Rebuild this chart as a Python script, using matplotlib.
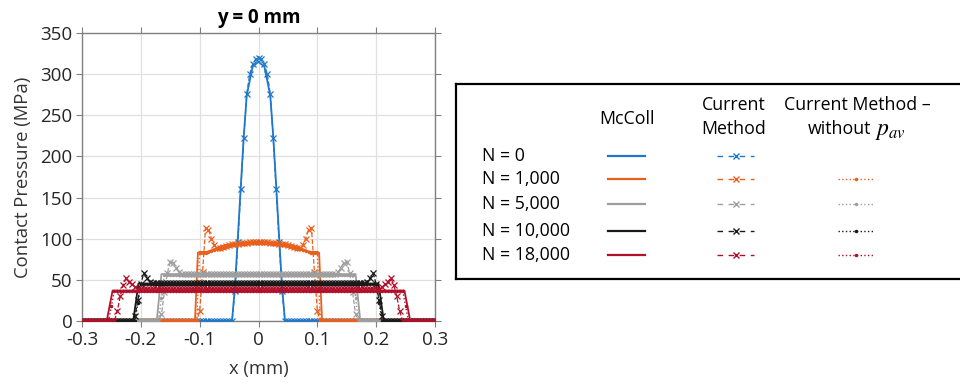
import numpy as np
import matplotlib.pyplot as plt

plt.rcParams['font.family'] = ['Open Sans', 'DejaVu Sans']
plt.rcParams['mathtext.fontset'] = 'stix'

# load cases and colours
labels = ['N = 0', 'N = 1,000', 'N = 5,000', 'N = 10,000', 'N = 18,000']
colors = ['#1f78c8', '#e8601c', '#9e9e9e', '#1a1a1a', '#b0102a']

# McColl solution, half profiles (x >= 0), mirrored about x = 0
mccoll_x = [
    [0, 0.01, 0.02, 0.025, 0.03, 0.035, 0.04, 0.045, 0.3],
    [0, 0.02, 0.04, 0.05, 0.06, 0.07, 0.08, 0.088, 0.1, 0.103, 0.108, 0.3],
    [0, 0.165, 0.173, 0.3],
    [0, 0.204, 0.213, 0.3],
    [0, 0.248, 0.258, 0.3],
]
mccoll_p = [
    [315, 309, 274, 225, 165, 103, 42, 0, 0],
    [96, 95.5, 94, 93, 91.5, 89, 86, 84, 84, 83, 0, 0],
    [57, 57, 0, 0],
    [45.5, 45.5, 0, 0],
    [37, 37, 0, 0],
]

# current method, nodal values every 0.005 mm from x = 0 to 0.3
mesh_half = np.linspace(0, 0.3, 61)
current_p = [
    [320, 318, 312, 300, 276, 222, 160, 96, 36] + [0] * 52,
    [96, 96, 95.5, 95.5, 95, 95, 94.5, 94, 93.5, 93, 92, 91, 90, 89, 89,
     92, 100, 111, 113, 60, 12] + [0] * 40,
    [57] * 27 + [59, 65, 71, 72, 58, 35, 8] + [0] * 27,
    [46] * 37 + [48, 52, 58, 45, 25, 6] + [0] * 18,
    [39] * 42 + [41, 45, 48, 52, 44, 30, 12] + [0] * 12,
]

# current method without p_av (not computed for N = 0)
nopav_p = [
    None,
    [95, 95, 95, 94.5, 94.5, 94, 93.5, 93, 92.5, 92, 91, 90, 89, 88, 87,
     86, 85, 84, 83, 83, 83] + [0] * 40,
    [56] * 33 + [28] + [0] * 27,
    [45] * 41 + [22] + [0] * 19,
    [37] * 50 + [18] + [0] * 10,
]


def mirror(x, p):
    x = np.asarray(x, dtype=float)
    p = np.asarray(p, dtype=float)
    return np.concatenate([-x[::-1][:-1], x]), np.concatenate([p[::-1][:-1], p])


fig = plt.figure(figsize=(9.6, 3.86), dpi=100)
ax = fig.add_axes([82 / 960, 1 - 321 / 386, 353 / 960, 288 / 386])

for i, c in enumerate(colors):
    z = 2 + 3 * i
    xm, pm = mirror(mccoll_x[i], mccoll_p[i])
    ax.plot(xm, pm, '-', color=c, lw=1.3, zorder=z)
    xc, pc = mirror(mesh_half, current_p[i])
    ax.plot(xc, pc, '--', color=c, lw=0.9, marker='x', ms=4.5, mew=0.9,
            zorder=z + 1)
    if nopav_p[i] is not None:
        xn, pn = mirror(mesh_half, nopav_p[i])
        ax.plot(xn, pn, ':', color=c, lw=1.0, marker='.', ms=3,
                zorder=z + 2)

ax.set_xlim(-0.3, 0.3)
ax.set_ylim(0, 350)
ax.set_xticks(np.arange(-0.3, 0.31, 0.1))
ax.set_xticklabels(['-0.3', '-0.2', '-0.1', '0', '0.1', '0.2', '0.3'])
ax.set_yticks(np.arange(0, 351, 50))
ax.grid(True, color='#e0e0e0', lw=0.9)
ax.set_axisbelow(True)
for s in ax.spines.values():
    s.set_color('#808080')
    s.set_linewidth(1.0)
ax.tick_params(direction='out', length=4, width=0.8, color='#808080',
               labelsize=13.5, top=True, right=True, pad=3,
               labelcolor='#262626')
ax.set_title('y = 0 mm', fontsize=13.5, fontweight='bold', pad=7)
ax.set_xlabel('x (mm)', fontsize=13.3, labelpad=8, color='#333333')
ax.set_ylabel('Contact Pressure (MPa)', fontsize=13.3, labelpad=6,
              color='#333333')

# legend table, laid out in pixel units
lg = fig.add_axes([456 / 960, 1 - 279 / 386, (964 - 456) / 960, 195 / 386])
lg.set_xlim(456, 964)
lg.set_ylim(279, 84)
lg.set_xticks([])
lg.set_yticks([])
for s in lg.spines.values():
    s.set_linewidth(1.6)
    s.set_color('black')

fs = 12.8
lg.text(627, 119, 'McColl', ha='center', va='center', fontsize=fs)
lg.text(734, 105, 'Current', ha='center', va='center', fontsize=fs)
lg.text(734, 129, 'Method', ha='center', va='center', fontsize=fs)
lg.text(857, 105, 'Current Method \u2013', ha='center', va='center',
        fontsize=fs)
lg.text(871, 129, 'without', ha='right', va='center', fontsize=fs)
lg.text(875, 130, '$p_{av}$', ha='left', va='center', fontsize=17)

rows_y = [156, 179, 204, 231, 255]
for i, c in enumerate(colors):
    y = rows_y[i]
    lg.text(482, y, labels[i], ha='left', va='center', fontsize=fs)
    lg.plot([608, 645], [y, y], '-', color=c, lw=1.6)
    lg.plot([717, 754], [y, y], '--', color=c, lw=1.0, dashes=(4, 4))
    lg.plot([735.5], [y], 'x', color=c, ms=5, mew=1.0)
    if nopav_p[i] is not None:
        lg.plot([838, 873], [y, y], ':', color=c, lw=1.0)
        lg.plot([855.5], [y], '.', color=c, ms=3)

fig.savefig('out.png', dpi=100)
